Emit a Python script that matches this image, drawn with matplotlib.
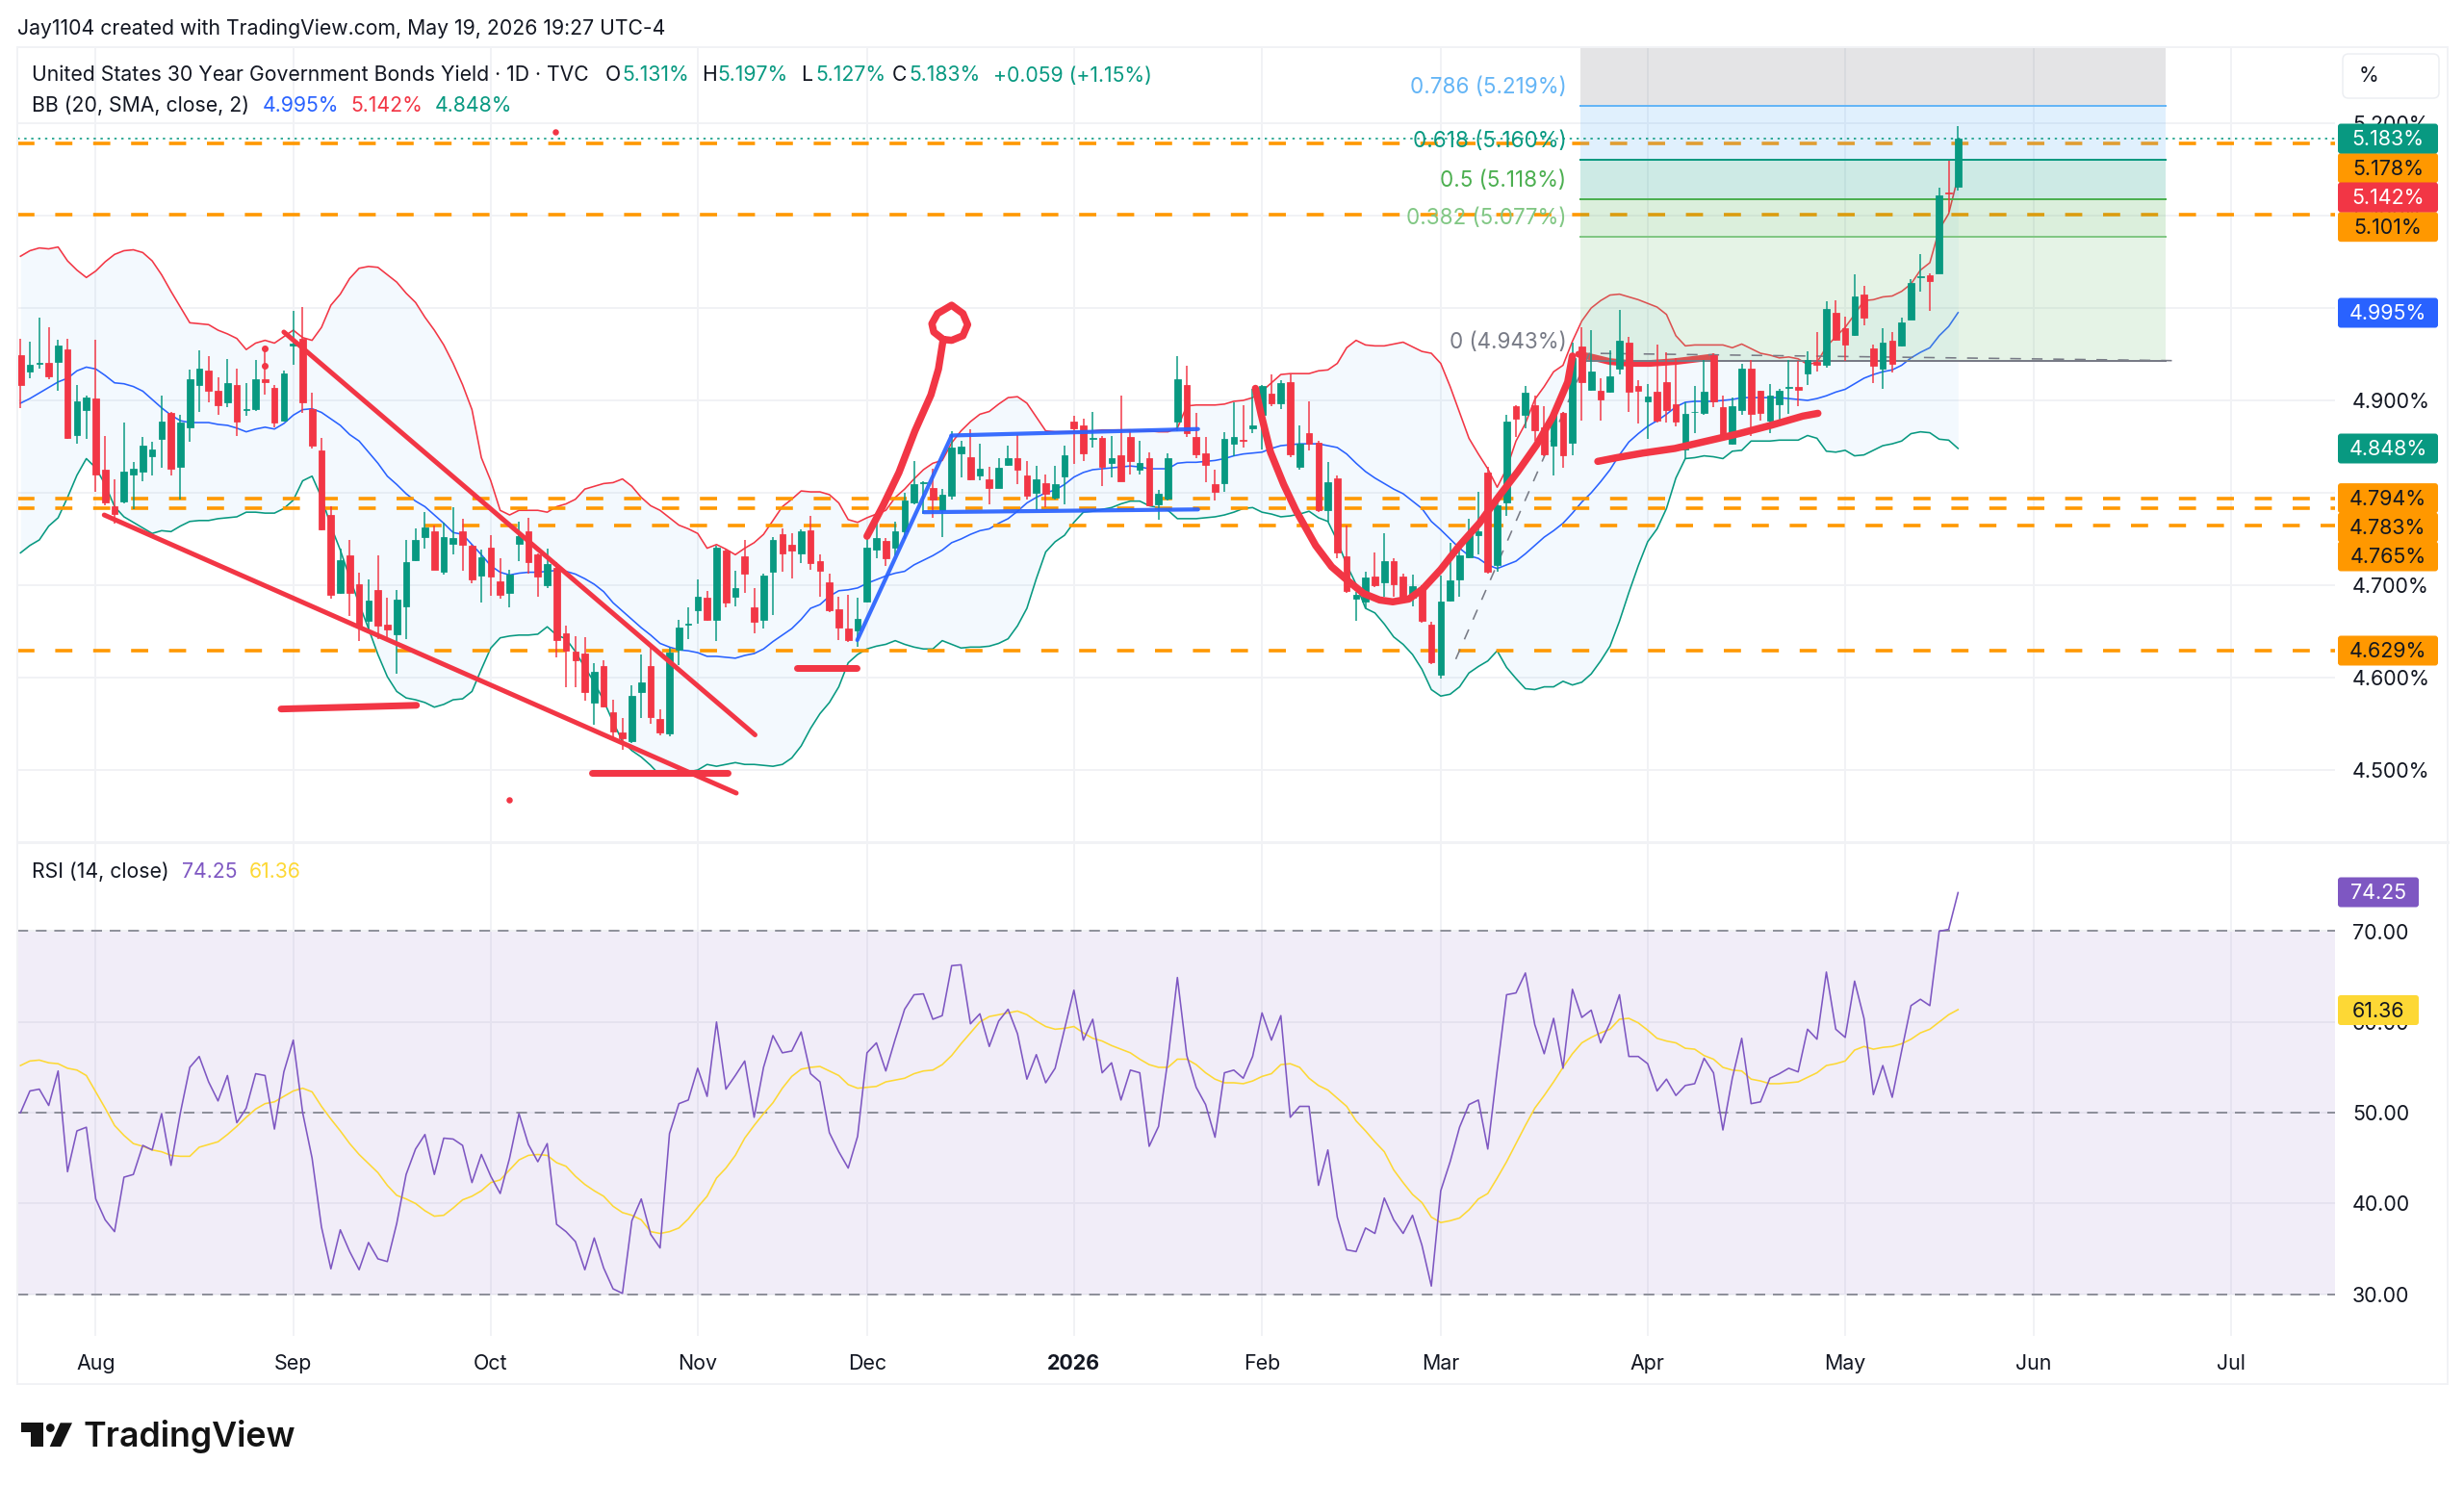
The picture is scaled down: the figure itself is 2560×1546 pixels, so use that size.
import matplotlib
matplotlib.use("Agg")
import matplotlib.pyplot as plt
from matplotlib.patches import Circle, FancyBboxPatch, Polygon, Rectangle

plt.rcParams["font.family"] = ["Inter", "DejaVu Sans"]

# ── Daily candles (yield in %) ───────────────────────────────────────────────
opens = [
    4.949, 4.931, 4.940, 4.941, 4.942, 4.955, 4.862, 4.890, 4.902, 4.825,
    4.785, 4.791, 4.820, 4.823, 4.840, 4.858, 4.886, 4.828, 4.871, 4.917,
    4.932, 4.910, 4.898, 4.917, 4.890, 4.891, 4.923, 4.914, 4.878, 4.959,
    4.967, 4.891, 4.846, 4.776, 4.692, 4.732, 4.701, 4.661, 4.695, 4.657,
    4.647, 4.677, 4.727, 4.752, 4.758, 4.715, 4.745, 4.758, 4.743, 4.710,
    4.741, 4.704, 4.692, 4.745, 4.758, 4.733, 4.700, 4.719, 4.648, 4.628,
    4.626, 4.573, 4.613, 4.563, 4.541, 4.531, 4.584, 4.613, 4.555, 4.540,
    4.630, 4.657, 4.673, 4.686, 4.663, 4.738, 4.687, 4.731, 4.676, 4.663,
    4.715, 4.755, 4.744, 4.734, 4.759, 4.726, 4.703, 4.674, 4.653, 4.651,
    4.682, 4.739, 4.748, 4.741, 4.758, 4.790, 4.810, 4.805, 4.781, 4.797,
    4.843, 4.839, 4.819, 4.815, 4.805, 4.830, 4.837, 4.819, 4.800, 4.810,
    4.795, 4.818, 4.877, 4.873, 4.858, 4.859, 4.832, 4.841, 4.860, 4.825,
    4.838, 4.787, 4.794, 4.877, 4.917, 4.860, 4.843, 4.809, 4.810, 4.853,
    4.857, 4.870, 4.884, 4.907, 4.897, 4.920, 4.828, 4.865, 4.854, 4.781,
    4.816, 4.731, 4.685, 4.682, 4.709, 4.703, 4.726, 4.709, 4.686, 4.695,
    4.657, 4.603, 4.683, 4.706, 4.730, 4.754, 4.822, 4.722, 4.790, 4.894,
    4.884, 4.895, 4.871, 4.851, 4.886, 4.854, 4.958, 4.911, 4.910, 4.909,
    4.934, 4.962, 4.916, 4.899, 4.909, 4.920, 4.896, 4.847, 4.887, 4.886,
    4.949, 4.893, 4.853, 4.890, 4.934, 4.910, 4.878, 4.896, 4.914, 4.915,
    4.929, 4.942, 4.939, 4.995, 4.978, 4.971, 5.015, 4.956, 4.934, 4.965,
    4.959, 4.988, 5.033, 5.035, 5.038, 5.125, 5.131,
]
highs = [
    4.967, 4.964, 4.990, 4.979, 4.966, 4.967, 4.917, 4.905, 4.966, 4.861,
    4.815, 4.876, 4.833, 4.860, 4.855, 4.905, 4.888, 4.884, 4.933, 4.954,
    4.948, 4.925, 4.945, 4.934, 4.919, 4.944, 4.956, 4.917, 4.932, 4.997,
    5.001, 4.908, 4.859, 4.785, 4.740, 4.749, 4.714, 4.706, 4.732, 4.686,
    4.695, 4.749, 4.761, 4.779, 4.765, 4.768, 4.784, 4.772, 4.744, 4.739,
    4.754, 4.729, 4.717, 4.769, 4.773, 4.734, 4.740, 4.725, 4.656, 4.645,
    4.644, 4.616, 4.619, 4.576, 4.556, 4.592, 4.625, 4.633, 4.566, 4.632,
    4.663, 4.676, 4.706, 4.694, 4.743, 4.740, 4.716, 4.749, 4.697, 4.712,
    4.752, 4.761, 4.756, 4.760, 4.775, 4.733, 4.712, 4.687, 4.690, 4.686,
    4.752, 4.769, 4.751, 4.769, 4.800, 4.834, 4.813, 4.826, 4.804, 4.867,
    4.856, 4.869, 4.853, 4.828, 4.838, 4.851, 4.862, 4.834, 4.829, 4.820,
    4.829, 4.851, 4.883, 4.880, 4.887, 4.861, 4.861, 4.905, 4.867, 4.856,
    4.844, 4.803, 4.843, 4.948, 4.938, 4.886, 4.860, 4.825, 4.866, 4.898,
    4.895, 4.913, 4.917, 4.928, 4.922, 4.928, 4.873, 4.899, 4.856, 4.833,
    4.819, 4.765, 4.693, 4.715, 4.735, 4.756, 4.729, 4.712, 4.711, 4.700,
    4.660, 4.710, 4.746, 4.741, 4.772, 4.801, 4.828, 4.795, 4.884, 4.895,
    4.916, 4.905, 4.894, 4.887, 4.887, 4.963, 4.979, 4.976, 4.924, 4.954,
    4.998, 4.969, 4.922, 4.918, 4.960, 4.952, 4.946, 4.898, 4.916, 4.944,
    4.951, 4.905, 4.903, 4.940, 4.944, 4.910, 4.918, 4.912, 4.944, 4.943,
    4.953, 4.974, 5.007, 5.008, 4.991, 5.036, 5.024, 4.960, 4.978, 4.974,
    4.990, 5.031, 5.058, 5.038, 5.130, 5.159, 5.197,
]
lows = [
    4.892, 4.924, 4.934, 4.923, 4.910, 4.858, 4.853, 4.858, 4.801, 4.786,
    4.767, 4.789, 4.782, 4.813, 4.819, 4.827, 4.819, 4.793, 4.855, 4.888,
    4.898, 4.884, 4.893, 4.861, 4.883, 4.889, 4.906, 4.871, 4.877, 4.939,
    4.886, 4.848, 4.759, 4.685, 4.691, 4.667, 4.640, 4.648, 4.642, 4.642,
    4.604, 4.642, 4.726, 4.740, 4.717, 4.711, 4.733, 4.716, 4.702, 4.681,
    4.689, 4.685, 4.676, 4.726, 4.712, 4.687, 4.697, 4.622, 4.590, 4.590,
    4.575, 4.549, 4.568, 4.535, 4.522, 4.529, 4.556, 4.550, 4.537, 4.536,
    4.614, 4.642, 4.658, 4.661, 4.640, 4.676, 4.677, 4.692, 4.648, 4.653,
    4.668, 4.715, 4.707, 4.724, 4.717, 4.688, 4.671, 4.641, 4.639, 4.633,
    4.681, 4.729, 4.721, 4.732, 4.750, 4.787, 4.777, 4.773, 4.752, 4.793,
    4.817, 4.814, 4.814, 4.788, 4.805, 4.829, 4.809, 4.793, 4.781, 4.784,
    4.793, 4.788, 4.831, 4.834, 4.849, 4.807, 4.817, 4.812, 4.820, 4.820,
    4.785, 4.771, 4.792, 4.867, 4.860, 4.838, 4.811, 4.792, 4.801, 4.840,
    4.849, 4.865, 4.847, 4.894, 4.891, 4.839, 4.825, 4.846, 4.779, 4.769,
    4.729, 4.692, 4.661, 4.675, 4.698, 4.688, 4.688, 4.684, 4.677, 4.659,
    4.615, 4.599, 4.682, 4.687, 4.729, 4.733, 4.712, 4.715, 4.775, 4.860,
    4.870, 4.856, 4.840, 4.819, 4.827, 4.841, 4.878, 4.910, 4.878, 4.908,
    4.928, 4.888, 4.875, 4.858, 4.876, 4.876, 4.872, 4.837, 4.865, 4.884,
    4.893, 4.858, 4.852, 4.884, 4.861, 4.878, 4.865, 4.877, 4.885, 4.894,
    4.917, 4.931, 4.935, 4.965, 4.943, 4.970, 4.981, 4.919, 4.913, 4.930,
    4.958, 4.987, 5.018, 4.997, 5.037, 5.104, 5.127,
]
closes = [
    4.917, 4.939, 4.941, 4.926, 4.959, 4.859, 4.899, 4.903, 4.820, 4.790,
    4.777, 4.823, 4.826, 4.851, 4.847, 4.877, 4.826, 4.876, 4.923, 4.934,
    4.910, 4.895, 4.919, 4.877, 4.891, 4.923, 4.920, 4.876, 4.929, 4.961,
    4.898, 4.851, 4.760, 4.690, 4.727, 4.692, 4.656, 4.683, 4.656, 4.652,
    4.684, 4.725, 4.749, 4.763, 4.717, 4.752, 4.751, 4.744, 4.706, 4.730,
    4.709, 4.690, 4.711, 4.753, 4.725, 4.709, 4.723, 4.641, 4.629, 4.619,
    4.584, 4.606, 4.569, 4.542, 4.534, 4.580, 4.595, 4.557, 4.541, 4.627,
    4.654, 4.658, 4.687, 4.663, 4.741, 4.681, 4.697, 4.712, 4.660, 4.710,
    4.749, 4.734, 4.737, 4.758, 4.724, 4.716, 4.673, 4.654, 4.641, 4.664,
    4.741, 4.751, 4.729, 4.758, 4.792, 4.809, 4.811, 4.793, 4.798, 4.849,
    4.850, 4.815, 4.826, 4.805, 4.827, 4.838, 4.825, 4.797, 4.815, 4.799,
    4.809, 4.841, 4.870, 4.843, 4.859, 4.828, 4.837, 4.813, 4.834, 4.832,
    4.786, 4.799, 4.838, 4.923, 4.865, 4.842, 4.830, 4.801, 4.858, 4.860,
    4.856, 4.873, 4.916, 4.897, 4.919, 4.842, 4.853, 4.853, 4.781, 4.811,
    4.735, 4.694, 4.690, 4.708, 4.700, 4.726, 4.701, 4.688, 4.699, 4.661,
    4.617, 4.682, 4.705, 4.732, 4.754, 4.758, 4.715, 4.786, 4.877, 4.880,
    4.908, 4.868, 4.842, 4.885, 4.841, 4.946, 4.920, 4.931, 4.901, 4.926,
    4.965, 4.909, 4.910, 4.904, 4.878, 4.890, 4.877, 4.885, 4.888, 4.909,
    4.899, 4.861, 4.894, 4.934, 4.885, 4.886, 4.905, 4.910, 4.915, 4.911,
    4.944, 4.939, 4.999, 4.966, 4.960, 5.012, 4.990, 4.937, 4.962, 4.940,
    4.984, 5.027, 5.034, 5.029, 5.122, 5.124, 5.183,
]

# ── Bollinger Bands (20, SMA, 2) ─────────────────────────────────────────────
bb_upper = [
    5.056, 5.062, 5.065, 5.064, 5.066, 5.051, 5.041, 5.033, 5.040, 5.050,
    5.058, 5.062, 5.063, 5.060, 5.051, 5.036, 5.018, 5.001, 4.984, 4.983,
    4.982, 4.976, 4.972, 4.967, 4.955, 4.962, 4.965, 4.962, 4.969, 4.976,
    4.968, 4.965, 4.979, 5.003, 5.015, 5.032, 5.043, 5.045, 5.044, 5.036,
    5.028, 5.016, 5.006, 4.990, 4.976, 4.960, 4.940, 4.917, 4.890, 4.838,
    4.813, 4.781, 4.776, 4.781, 4.781, 4.781, 4.779, 4.785, 4.788, 4.793,
    4.804, 4.807, 4.810, 4.811, 4.815, 4.807, 4.795, 4.786, 4.781, 4.773,
    4.765, 4.761, 4.756, 4.740, 4.744, 4.739, 4.733, 4.740, 4.746, 4.755,
    4.770, 4.785, 4.793, 4.802, 4.801, 4.801, 4.798, 4.789, 4.771, 4.768,
    4.773, 4.777, 4.781, 4.795, 4.804, 4.815, 4.825, 4.832, 4.835, 4.854,
    4.867, 4.877, 4.885, 4.888, 4.896, 4.903, 4.904, 4.897, 4.882, 4.867,
    4.866, 4.866, 4.866, 4.866, 4.867, 4.868, 4.868, 4.868, 4.868, 4.867,
    4.867, 4.866, 4.866, 4.870, 4.894, 4.895, 4.895, 4.895, 4.896, 4.899,
    4.900, 4.903, 4.910, 4.919, 4.928, 4.929, 4.929, 4.929, 4.932, 4.933,
    4.940, 4.957, 4.965, 4.960, 4.959, 4.959, 4.961, 4.963, 4.958, 4.953,
    4.951, 4.940, 4.915, 4.887, 4.859, 4.842, 4.826, 4.806, 4.826, 4.856,
    4.875, 4.901, 4.915, 4.931, 4.938, 4.964, 4.986, 5.000, 5.008, 5.014,
    5.015, 5.012, 5.009, 5.005, 5.001, 4.993, 4.970, 4.959, 4.960, 4.960,
    4.960, 4.960, 4.957, 4.961, 4.956, 4.951, 4.949, 4.946, 4.947, 4.945,
    4.939, 4.941, 4.958, 4.969, 4.979, 4.993, 5.008, 5.009, 5.012, 5.013,
    5.018, 5.026, 5.041, 5.049, 5.085, 5.102, 5.142,
]
bb_basis = [
    4.897, 4.902, 4.908, 4.914, 4.920, 4.924, 4.932, 4.936, 4.934, 4.927,
    4.919, 4.918, 4.915, 4.910, 4.901, 4.892, 4.884, 4.878, 4.876, 4.876,
    4.876, 4.874, 4.873, 4.870, 4.866, 4.869, 4.871, 4.869, 4.875, 4.884,
    4.890, 4.891, 4.887, 4.880, 4.873, 4.863, 4.856, 4.844, 4.832, 4.818,
    4.809, 4.799, 4.791, 4.785, 4.776, 4.767, 4.757, 4.755, 4.744, 4.733,
    4.721, 4.714, 4.711, 4.713, 4.714, 4.714, 4.715, 4.716, 4.715, 4.712,
    4.707, 4.701, 4.693, 4.681, 4.672, 4.663, 4.654, 4.646, 4.637, 4.633,
    4.630, 4.629, 4.627, 4.623, 4.623, 4.622, 4.621, 4.624, 4.626, 4.631,
    4.639, 4.646, 4.653, 4.663, 4.675, 4.679, 4.688, 4.694, 4.695, 4.697,
    4.702, 4.706, 4.710, 4.713, 4.715, 4.722, 4.727, 4.732, 4.738, 4.746,
    4.750, 4.755, 4.759, 4.761, 4.767, 4.772, 4.780, 4.789, 4.795, 4.800,
    4.803, 4.809, 4.817, 4.822, 4.825, 4.826, 4.827, 4.828, 4.829, 4.828,
    4.826, 4.826, 4.826, 4.832, 4.833, 4.833, 4.834, 4.835, 4.837, 4.840,
    4.842, 4.843, 4.844, 4.848, 4.851, 4.852, 4.853, 4.853, 4.853, 4.851,
    4.849, 4.842, 4.832, 4.823, 4.816, 4.810, 4.804, 4.799, 4.791, 4.783,
    4.769, 4.760, 4.750, 4.740, 4.732, 4.729, 4.722, 4.718, 4.722, 4.726,
    4.734, 4.743, 4.752, 4.759, 4.767, 4.778, 4.790, 4.800, 4.812, 4.825,
    4.841, 4.855, 4.864, 4.872, 4.878, 4.885, 4.893, 4.898, 4.899, 4.899,
    4.899, 4.900, 4.901, 4.903, 4.903, 4.903, 4.903, 4.903, 4.902, 4.901,
    4.900, 4.902, 4.905, 4.909, 4.912, 4.918, 4.924, 4.928, 4.931, 4.933,
    4.938, 4.946, 4.952, 4.957, 4.970, 4.980, 4.995,
]
bb_lower = [
    4.735, 4.743, 4.749, 4.764, 4.773, 4.795, 4.819, 4.837, 4.827, 4.809,
    4.785, 4.774, 4.768, 4.762, 4.756, 4.759, 4.758, 4.764, 4.769, 4.770,
    4.770, 4.772, 4.773, 4.774, 4.779, 4.779, 4.778, 4.778, 4.783, 4.792,
    4.813, 4.818, 4.795, 4.764, 4.738, 4.708, 4.680, 4.653, 4.625, 4.601,
    4.585, 4.578, 4.576, 4.573, 4.568, 4.571, 4.576, 4.577, 4.585, 4.609,
    4.632, 4.643, 4.645, 4.646, 4.646, 4.647, 4.655, 4.646, 4.642, 4.628,
    4.611, 4.595, 4.575, 4.552, 4.531, 4.521, 4.514, 4.505, 4.494, 4.497,
    4.498, 4.498, 4.500, 4.506, 4.504, 4.506, 4.508, 4.506, 4.506, 4.505,
    4.504, 4.506, 4.513, 4.526, 4.545, 4.561, 4.573, 4.590, 4.616, 4.625,
    4.631, 4.634, 4.636, 4.640, 4.636, 4.633, 4.631, 4.631, 4.640, 4.636,
    4.632, 4.633, 4.633, 4.634, 4.637, 4.642, 4.656, 4.675, 4.707, 4.736,
    4.747, 4.754, 4.768, 4.779, 4.780, 4.782, 4.784, 4.788, 4.791, 4.791,
    4.786, 4.784, 4.781, 4.772, 4.772, 4.772, 4.773, 4.774, 4.776, 4.779,
    4.783, 4.784, 4.779, 4.777, 4.774, 4.775, 4.777, 4.780, 4.773, 4.769,
    4.748, 4.722, 4.701, 4.675, 4.670, 4.658, 4.644, 4.636, 4.625, 4.609,
    4.587, 4.580, 4.582, 4.590, 4.605, 4.612, 4.618, 4.629, 4.611, 4.599,
    4.588, 4.587, 4.590, 4.590, 4.596, 4.592, 4.595, 4.604, 4.618, 4.634,
    4.661, 4.692, 4.721, 4.747, 4.761, 4.783, 4.816, 4.837, 4.838, 4.840,
    4.839, 4.837, 4.845, 4.846, 4.856, 4.856, 4.856, 4.857, 4.857, 4.857,
    4.862, 4.859, 4.845, 4.844, 4.846, 4.840, 4.841, 4.846, 4.851, 4.853,
    4.856, 4.864, 4.866, 4.865, 4.858, 4.857, 4.848,
]

# ── RSI (14) and its moving average ──────────────────────────────────────────
rsi = [
    50.0, 52.4, 52.6, 50.8, 54.6, 43.5, 48.0, 48.4, 40.5, 38.2,
    36.9, 42.9, 43.2, 46.4, 45.9, 49.9, 44.2, 50.0, 55.0, 56.2,
    53.4, 51.3, 54.1, 48.9, 50.5, 54.3, 54.1, 48.2, 54.5, 58.0,
    50.0, 45.0, 37.4, 32.8, 37.1, 34.7, 32.7, 35.7, 33.9, 33.6,
    37.8, 43.2, 46.0, 47.6, 43.2, 47.2, 47.1, 46.4, 42.3, 45.4,
    43.0, 41.1, 45.0, 49.9, 46.5, 44.6, 46.6, 37.7, 36.9, 35.8,
    32.7, 36.2, 32.9, 30.6, 30.1, 38.1, 40.5, 36.6, 35.1, 47.7,
    51.0, 51.4, 54.9, 51.8, 60.0, 52.6, 54.1, 55.7, 49.5, 55.0,
    58.5, 56.6, 56.8, 58.9, 54.3, 53.4, 47.8, 45.7, 43.9, 47.4,
    56.6, 57.7, 54.6, 58.1, 61.4, 63.0, 63.1, 60.3, 60.7, 66.2,
    66.3, 59.8, 60.9, 57.3, 60.1, 61.4, 58.7, 53.7, 56.4, 53.3,
    54.9, 59.2, 63.5, 58.0, 60.3, 54.4, 55.5, 51.4, 54.7, 54.4,
    46.3, 48.5, 55.9, 64.9, 56.3, 52.8, 50.9, 47.3, 54.4, 54.7,
    53.8, 56.2, 61.0, 58.0, 60.7, 49.5, 50.7, 50.7, 42.0, 45.9,
    38.5, 34.9, 34.7, 37.3, 36.7, 40.6, 38.2, 36.7, 38.7, 35.4,
    30.9, 41.4, 44.6, 48.4, 50.9, 51.4, 46.0, 54.7, 63.0, 63.2,
    65.4, 59.7, 56.5, 60.4, 54.9, 63.6, 60.5, 61.3, 57.7, 59.9,
    63.0, 56.2, 56.2, 55.4, 52.4, 53.7, 51.9, 53.0, 53.2, 56.0,
    54.4, 48.1, 53.8, 58.2, 51.0, 51.2, 53.8, 54.3, 54.9, 54.5,
    59.2, 58.1, 65.5, 59.2, 58.3, 64.5, 60.4, 52.0, 55.2, 51.7,
    56.8, 61.8, 62.5, 61.8, 70.0, 70.2, 74.25,
]
rsi_ma = [
    55.2, 55.7, 55.8, 55.5, 55.4, 54.9, 54.7, 54.1, 52.3, 50.5,
    48.6, 47.5, 46.6, 46.3, 45.9, 45.7, 45.3, 45.2, 45.2, 46.2,
    46.5, 46.8, 47.6, 48.5, 49.5, 50.4, 51.0, 51.2, 51.8, 52.4,
    52.7, 52.3, 50.7, 49.3, 48.0, 46.6, 45.4, 44.4, 43.4, 42.0,
    40.9, 40.5, 40.0, 39.2, 38.6, 38.7, 39.5, 40.4, 40.8, 41.4,
    42.3, 42.6, 43.7, 44.8, 45.3, 45.4, 45.3, 44.5, 44.1, 43.0,
    42.1, 41.4, 40.8, 39.7, 39.0, 38.7, 38.2, 36.9, 36.7, 36.9,
    37.3, 38.3, 39.6, 40.8, 42.8, 43.9, 45.3, 47.2, 48.6, 49.9,
    51.1, 52.7, 54.0, 54.8, 55.0, 55.1, 54.6, 54.1, 53.1, 52.7,
    52.8, 52.9, 53.4, 53.6, 53.8, 54.3, 54.6, 54.7, 55.3, 56.3,
    57.6, 58.8, 60.0, 60.6, 60.8, 61.0, 61.2, 60.8, 60.1, 59.5,
    59.2, 59.3, 59.5, 58.8, 58.2, 57.9, 57.4, 57.0, 56.6, 55.9,
    55.3, 55.0, 55.0, 55.9, 55.9, 55.3, 54.4, 53.7, 53.3, 53.3,
    53.2, 53.5, 54.0, 54.3, 55.3, 55.4, 55.0, 53.8, 53.0, 52.5,
    51.6, 50.7, 49.1, 48.0, 46.8, 45.7, 43.7, 42.3, 41.0, 40.1,
    38.5, 37.9, 38.1, 38.4, 39.3, 40.5, 41.1, 42.8, 44.6, 46.6,
    48.6, 50.5, 51.9, 53.4, 55.0, 56.5, 57.7, 58.3, 58.8, 59.2,
    60.3, 60.4, 59.9, 59.1, 58.2, 57.9, 57.7, 57.1, 57.0, 56.3,
    55.9, 55.0, 54.7, 54.6, 53.7, 53.5, 53.2, 53.2, 53.3, 53.4,
    53.9, 54.4, 55.2, 55.4, 55.7, 56.9, 57.3, 57.0, 57.2, 57.3,
    57.6, 58.1, 58.8, 59.2, 60.0, 60.8, 61.36,
]

# ── Axis ticks ───────────────────────────────────────────────────────────────
month_bars = [8, 29, 50, 72, 90, 112, 132, 151, 173, 194, 214, 235]
month_labels = ["Aug", "Sep", "Oct", "Nov", "Dec", "2026", "Feb", "Mar", "Apr", "May", "Jun", "Jul"]
price_ticks = [4.5, 4.6, 4.7, 4.8, 4.9, 5.0, 5.1, 5.2]
rsi_ticks = [30, 40, 50, 60, 70]

# ── Drawings on the chart: horizontal levels, fib, hand strokes ──────────────
level_prices = [5.178, 5.101, 4.794, 4.783, 4.765, 4.629]
level_starts = [None, None, None, None, 43, None]
fib_ratios = ["0.786", "0.618", "0.5", "0.382", "0"]
fib_prices = [5.219, 5.160, 5.118, 5.077, 4.943]
fib_bars = [165.9, 228.1]
fib_trend_bars = [152.6, 166.8, 229]
fib_trend_prices = [4.620, 4.951, 4.943]

wedge_top = ([28.0, 78.1], [4.974, 4.538])
wedge_bottom = ([8.9, 76.1], [4.776, 4.475])
floor_a = ([27.7, 42.1], [4.566, 4.570])
floor_b = ([60.8, 75.2], [4.497, 4.497])
floor_c = ([82.6, 88.9], [4.610, 4.610])
stray_dots = ([56.9, 52.0], [5.191, 4.468])
wick_dots = ([26, 26], [4.956, 4.937])
arrow_bars = [90.0, 91.7, 93.4, 95.1, 96.8, 97.6, 98.1, 97.1, 96.9, 97.5, 99.0, 100.2, 100.7, 100.2, 99.0, 98.1]
arrow_prices = [4.753, 4.786, 4.822, 4.867, 4.906, 4.934, 4.966, 4.974, 4.983, 4.994, 5.003, 4.994, 4.982, 4.970, 4.965, 4.966]
cup_bars = [131.3, 131.9, 132.9, 134.3, 135.6, 137.7, 139.4, 141.1, 142.8, 144.5, 145.9,
            147.6, 149.1, 151.0, 153.0, 155.1, 157.1, 159.2, 161.2, 162.9, 164.5, 165.0]
cup_prices = [4.913, 4.885, 4.844, 4.809, 4.781, 4.743, 4.720, 4.705, 4.691, 4.684, 4.682,
              4.685, 4.696, 4.717, 4.743, 4.767, 4.795, 4.823, 4.852, 4.882, 4.920, 4.948]
neck_bars = [165.65, 167.4, 169.0, 171.1, 173.2, 175.9, 180.0]
neck_prices = [4.950, 4.946, 4.942, 4.940, 4.940, 4.942, 4.947]
rising_bars = [167.7, 169.7, 172.5, 175.9, 179.3, 182.7, 186.1, 189.5, 191.1]
rising_prices = [4.834, 4.838, 4.843, 4.848, 4.856, 4.864, 4.873, 4.883, 4.886]
flag_pole = ([88.97, 98.96], [4.6406, 4.861])
flag_top = ([98.96, 125.2], [4.862, 4.869])
flag_bottom = ([96.06, 125.2], [4.779, 4.782])

# ── Colours ──────────────────────────────────────────────────────────────────
UP = "#089981"
DOWN = "#F23645"
BLUE = "#2962FF"
ORANGE = "#FF9800"
INK = "#131722"
GRID = "#F1F2F5"
PURPLE = "#7E57C2"
YELLOW = "#FDD835"
FIB_COLOURS = ["#64B5F6", "#089981", "#4CAF50", "#81C784", "#787B86"]

# ── Layout, figure pixels ────────────────────────────────────────────────────
W, H = 2560, 1546
LEFT, RIGHT = 18, 2426
TOP, SPLIT, BOTTOM = 49, 875, 1388
BAR0_PX, BAR_PX = 21.3, 9.772
px = 0.72  # one pixel in points at dpi 100
TEXT = 21.4 * px


def pane(top, bottom):
    return fig.add_axes([LEFT / W, 1 - bottom / H, (RIGHT - LEFT) / W, (bottom - top) / H])


fig = plt.figure(figsize=(W / 100, H / 100), dpi=100, facecolor="white")
ax = pane(TOP, SPLIT)
ax_rsi = pane(SPLIT, BOTTOM)

xlim = ((LEFT - BAR0_PX) / BAR_PX, (RIGHT - BAR0_PX) / BAR_PX)
ax.set_xlim(xlim)
ax.set_ylim(4.9 + (416 - SPLIT) / 960, 4.9 + (416 - TOP) / 960)
ax_rsi.set_xlim(xlim)
ax_rsi.set_ylim(30 - (BOTTOM - 1344.7) / 9.43, 70 + (967.5 - SPLIT) / 9.43)

for a in (ax, ax_rsi):
    a.patch.set_alpha(0)
    for s in a.spines.values():
        s.set_visible(False)
    a.set_xticks(month_bars)
    a.grid(True, color=GRID, lw=2 * px, zorder=0)
    a.set_axisbelow(True)
    a.yaxis.tick_right()
    a.tick_params(length=0, labelsize=TEXT, labelcolor=INK, pad=18 * px)

bars = list(range(len(closes)))

# ── Price pane ───────────────────────────────────────────────────────────────
ax.set_xticklabels([])
ax.set_yticks(price_ticks)
ax.set_yticklabels([f"{v:.3f}%" for v in price_ticks])

ax.fill_between(bars, bb_lower, bb_upper, color="#2196F3", alpha=0.05, lw=0, zorder=1)
ax.plot(bars, bb_upper, color=DOWN, lw=1.6 * px, zorder=2)
ax.plot(bars, bb_basis, color=BLUE, lw=1.6 * px, zorder=2)
ax.plot(bars, bb_lower, color=UP, lw=1.6 * px, zorder=2)

for price, start in zip(level_prices, level_starts):
    x0 = xlim[0] if start is None else start
    ax.plot([x0, xlim[1]], [price, price], color=ORANGE, lw=3.6 * px,
            dashes=(17.8 / 3.6, 21.6 / 3.6), dash_capstyle="butt", zorder=2)

# stroke under the fib zones, as in the picture
ax.plot(neck_bars, neck_prices, color=DOWN, lw=7 * px, solid_capstyle="round", zorder=2.5)

# fib zones and levels
zone_edges = [ax.get_ylim()[1]] + fib_prices
zone_colours = ["#787B86"] + FIB_COLOURS[:4]
for hi, lo, colour in zip(zone_edges[:-1], zone_edges[1:], zone_colours):
    ax.fill_between(fib_bars, lo, hi, color=colour, alpha=0.2, lw=0, zorder=3)
for price, ratio, colour in zip(fib_prices, fib_ratios, FIB_COLOURS):
    ax.plot(fib_bars, [price, price], color=colour, lw=2 * px, zorder=3.1)
    ax.annotate(f"{ratio} ({price:.3f}%)", (fib_bars[0], price), xytext=(-15 * px, 19 * px),
                textcoords="offset points", ha="right", va="center",
                color=colour, fontsize=22.4 * px, zorder=6)
ax.plot(fib_trend_bars, fib_trend_prices, color="#787B86", lw=1.6 * px,
        dashes=(7, 7), zorder=3.2)

# dotted last-price line
ax.plot(xlim, [closes[-1], closes[-1]], color=UP, lw=1.6 * px, dashes=(1.5, 3), zorder=3.3)

# candles
colours = [UP if c >= o else DOWN for o, c in zip(opens, closes)]
ax.vlines(bars, lows, highs, colors=colours, lw=1.5 * px, zorder=4)
ax.bar(bars, [abs(c - o) for o, c in zip(opens, closes)],
       bottom=[min(o, c) for o, c in zip(opens, closes)], width=0.68,
       color=colours, edgecolor=colours, lw=0.8 * px, zorder=4.1)

# hand-drawn strokes
for line, lw in [(wedge_top, 5), (wedge_bottom, 5), (floor_a, 7), (floor_b, 7), (floor_c, 7)]:
    ax.plot(*line, color=DOWN, lw=lw * px, solid_capstyle="round", zorder=5)
ax.plot(arrow_bars, arrow_prices, color=DOWN, lw=7.5 * px, solid_capstyle="round",
        solid_joinstyle="round", zorder=5)
ax.plot(cup_bars, cup_prices, color=DOWN, lw=7.5 * px, solid_capstyle="round", zorder=5)
ax.plot(rising_bars, rising_prices, color=DOWN, lw=7.5 * px, solid_capstyle="round", zorder=5)
for line in (flag_pole, flag_top, flag_bottom):
    ax.plot(*line, color=BLUE, lw=4.2 * px, solid_capstyle="round", alpha=0.92, zorder=5)
ax.scatter(*stray_dots, s=(6.5 * px) ** 2, color=DOWN, lw=0, zorder=5)
ax.scatter(*wick_dots, s=(7 * px) ** 2, color=DOWN, lw=0, zorder=5)

# ── RSI pane ─────────────────────────────────────────────────────────────────
ax_rsi.set_yticks(rsi_ticks)
ax_rsi.set_yticklabels([f"{v:.2f}" for v in rsi_ticks])
ax_rsi.set_xticklabels(month_labels)
ax_rsi.tick_params(axis="x", pad=19 * px)
ax_rsi.get_xticklabels()[month_labels.index("2026")].set_fontweight("bold")

ax_rsi.fill_between(xlim, 30, 70, color=PURPLE, alpha=0.1, lw=0, zorder=1)
for level in (30, 50, 70):
    ax_rsi.plot(xlim, [level, level], color="#787B86", lw=1.6 * px, dashes=(7, 5), zorder=2)
ax_rsi.plot(bars, rsi_ma, color=YELLOW, lw=1.6 * px, zorder=3)
ax_rsi.plot(bars, rsi, color=PURPLE, lw=1.6 * px, zorder=3.1)

# ── Chrome: header, price labels, frame, logo (figure pixels) ────────────────
ov = fig.add_axes([0, 0, 1, 1], zorder=10)
ov.set_xlim(0, W)
ov.set_ylim(H, 0)
ov.axis("off")
ov.patch.set_alpha(0)

ov.add_patch(Rectangle((LEFT, TOP), 2543 - LEFT, 1438 - TOP, fill=False, ec=GRID, lw=2 * px))
ov.plot([LEFT, 2543], [SPLIT, SPLIT], color=GRID, lw=3 * px)


def say(x, y, text, colour=INK, **kw):
    ov.text(x, y, text, color=colour, fontsize=kw.pop("size", 21.2 * px), va="center", **kw)


say(18, 29.5, "Jay1104 created with TradingView.com, May 19, 2026 19:27 UTC-4")
say(33, 78.5, "United States 30 Year Government Bonds Yield · 1D · TVC")
for x, text, colour in [(629, "O", INK), (646, "5.131%", UP), (729.5, "H", INK), (745, "5.197%", UP),
                        (832, "L", INK), (847, "5.127%", UP), (927, "C", INK), (944, "5.183%", UP),
                        (1032, "+0.059 (+1.15%)", UP)]:
    say(x, 78.5, text, colour)
say(33, 109.5, "BB (20, SMA, close, 2)")
say(272.6, 109.5, "4.995%", BLUE)
say(364, 109.5, "5.142%", DOWN)
say(451.5, 109.5, "4.848%", UP)
say(33, 906, "RSI (14, close)")
say(189, 906, "74.25", PURPLE)
say(259, 906, "61.36", YELLOW)


def tag(y, text, fill, ink, x0=2429, x1=2533):
    ov.add_patch(FancyBboxPatch((x0 + 2, y - 13.5), x1 - x0 - 4, 27, boxstyle="round,pad=2,rounding_size=3",
                                fc=fill, ec="none"))
    ov.text((x0 + x1) / 2, y + 1.2, text, color=ink, fontsize=TEXT, ha="center", va="center")


# stacked tags sit apart from their level, so their heights are layout
tag(578, "4.765%", ORANGE, INK)
tag(548, "4.783%", ORANGE, INK)
tag(517.6, "4.794%", ORANGE, INK)
tag(676, "4.629%", ORANGE, INK)
tag(235.7, "5.101%", ORANGE, INK)
tag(174.6, "5.178%", ORANGE, INK)
tag(205, "5.142%", DOWN, "white")
tag(144, "5.183%", UP, "white")
tag(325, "4.995%", BLUE, "white")
tag(466, "4.848%", UP, "white")
tag(927, "74.25", PURPLE, "white", x1=2513)
tag(1049.5, "61.36", YELLOW, INK, x1=2513)

ov.add_patch(FancyBboxPatch((2436, 58), 96, 42, boxstyle="round,pad=2,rounding_size=6",
                            fc="white", ec="#ECEEF2", lw=1.5 * px))
say(2451, 79, "%")

# TradingView mark
ov.add_patch(Polygon([(21.7, 1478.3), (45, 1478.3), (45, 1503), (31.7, 1503), (31.7, 1488.3), (21.7, 1488.3)],
                     fc="#131313", ec="none"))
ov.add_patch(Circle((52.3, 1483.5), 4.4, fc="#131313", ec="none"))
ov.add_patch(Polygon([(62.7, 1478.3), (75, 1478.3), (63.3, 1503), (51.7, 1503)], fc="#131313", ec="none"))
say(87, 1492, "TradingView", "#131313", size=35.8 * px, fontweight="semibold")

fig.savefig("out.png", dpi=100, facecolor="white")
